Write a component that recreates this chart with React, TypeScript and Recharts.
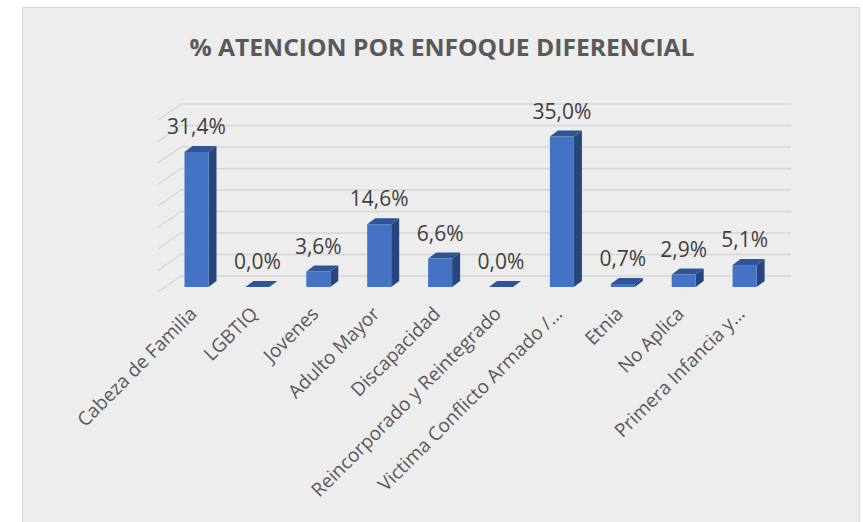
import React from 'react';
import { BarChart, Bar, XAxis, YAxis, CartesianGrid, LabelList } from 'recharts';

const categories = [
  'Cabeza de Familia',
  'LGBTIQ',
  'Jovenes',
  'Adulto Mayor',
  'Discapacidad',
  'Reincorporado y Reintegrado',
  'Victima Conflicto Armado /…',
  'Etnia',
  'No Aplica',
  'Primera Infancia y…',
];
const values = [31.4, 0.0, 3.6, 14.6, 6.6, 0.0, 35.0, 0.7, 2.9, 5.1];
const yTicks = [0, 5, 10, 15, 20, 25, 30, 35, 40];
const title = '% ATENCION POR ENFOQUE DIFERENCIAL';

const data = categories.map((name, i) => ({ name, value: values[i] }));

const FONT = "'Open Sans', 'Noto Sans', sans-serif";
const DX = 8;
const DY = 6;

const Bar3D = (props: any) => {
  const { x, y, width, height } = props;
  if (x == null || y == null) return null;
  const h = Math.max(0, height || 0);
  const w = width;
  const front = `M${x},${y} L${x + w},${y} L${x + w},${y + h} L${x},${y + h} Z`;
  const side = `M${x + w},${y} L${x + w + DX},${y - DY} L${x + w + DX},${y + h - DY} L${x + w},${y + h} Z`;
  const top = `M${x},${y} L${x + DX},${y - DY} L${x + w + DX},${y - DY} L${x + w},${y} Z`;
  return (
    <g>
      <path d={side} fill="#27467F" />
      <path d={top} fill="#2F5597" />
      {h > 0 && <path d={front} fill="#4472C4" />}
    </g>
  );
};

const GridLine3D = (props: any) => {
  const { x1, x2, y1, key } = props;
  return (
    <g key={key}>
      <line x1={x1 - 8.5} y1={y1 + 5} x2={x1 + 14.5} y2={y1 - 11} stroke="#D6D6D6" strokeWidth={1.3} />
      <line x1={x1 + 14.5} y1={y1 - 11} x2={x2 + 15.5} y2={y1 - 11} stroke="#D6D6D6" strokeWidth={1.3} />
    </g>
  );
};

const CategoryTick = (props: any) => {
  const { x, y, payload } = props;
  return (
    <g transform={`translate(${x + 1},${y + 28})`}>
      <text
        x={0}
        y={0}
        transform="rotate(-45)"
        textAnchor="end"
        fontFamily={FONT}
        fontSize={19}
        fill="#595959"
      >
        {payload.value}
      </text>
    </g>
  );
};

const ValueLabel = (props: any) => {
  const { x, y, width, value } = props;
  return (
    <text
      x={x + width / 2}
      y={y - 18}
      textAnchor="middle"
      fontFamily={FONT}
      fontSize={21}
      fill="#404040"
    >
      {Number(value).toFixed(1).replace('.', ',') + '%'}
    </text>
  );
};

export default function App() {
  return (
    <div style={{ position: 'absolute', left: 0, top: 0, width: 863, height: 522, background: '#FFFFFF', overflow: 'hidden' }}>
      <div
        style={{
          position: 'absolute',
          left: 22,
          top: 7,
          width: 836,
          height: 530,
          background: '#EDEDED',
          border: '1px solid #D9D9D9',
        }}
      />
      <div style={{ position: 'absolute', left: 0, top: 0 }}>
        <BarChart
          width={863}
          height={522}
          data={data}
          margin={{ top: 115, right: 87.5, bottom: 205, left: 166.5 }}
          barCategoryGap={0}
        >
          <text
            x={442}
            y={56}
            textAnchor="middle"
            fontFamily={FONT}
            fontSize={24}
            fontWeight={700}
            fill="#595959"
            textLength={505}
            lengthAdjust="spacingAndGlyphs"
          >
            {title}
          </text>
          <CartesianGrid vertical={false} horizontal={GridLine3D} />
          <XAxis
            dataKey="name"
            height={30}
            axisLine={false}
            tickLine={false}
            tickSize={0}
            tickMargin={0}
            interval={0}
            tick={CategoryTick}
          />
          <YAxis hide domain={[0, 40]} ticks={yTicks} interval={0} />
          <Bar dataKey="value" barSize={24} shape={Bar3D} isAnimationActive={false}>
            <LabelList dataKey="value" content={ValueLabel} />
          </Bar>
        </BarChart>
      </div>
    </div>
  );
}
